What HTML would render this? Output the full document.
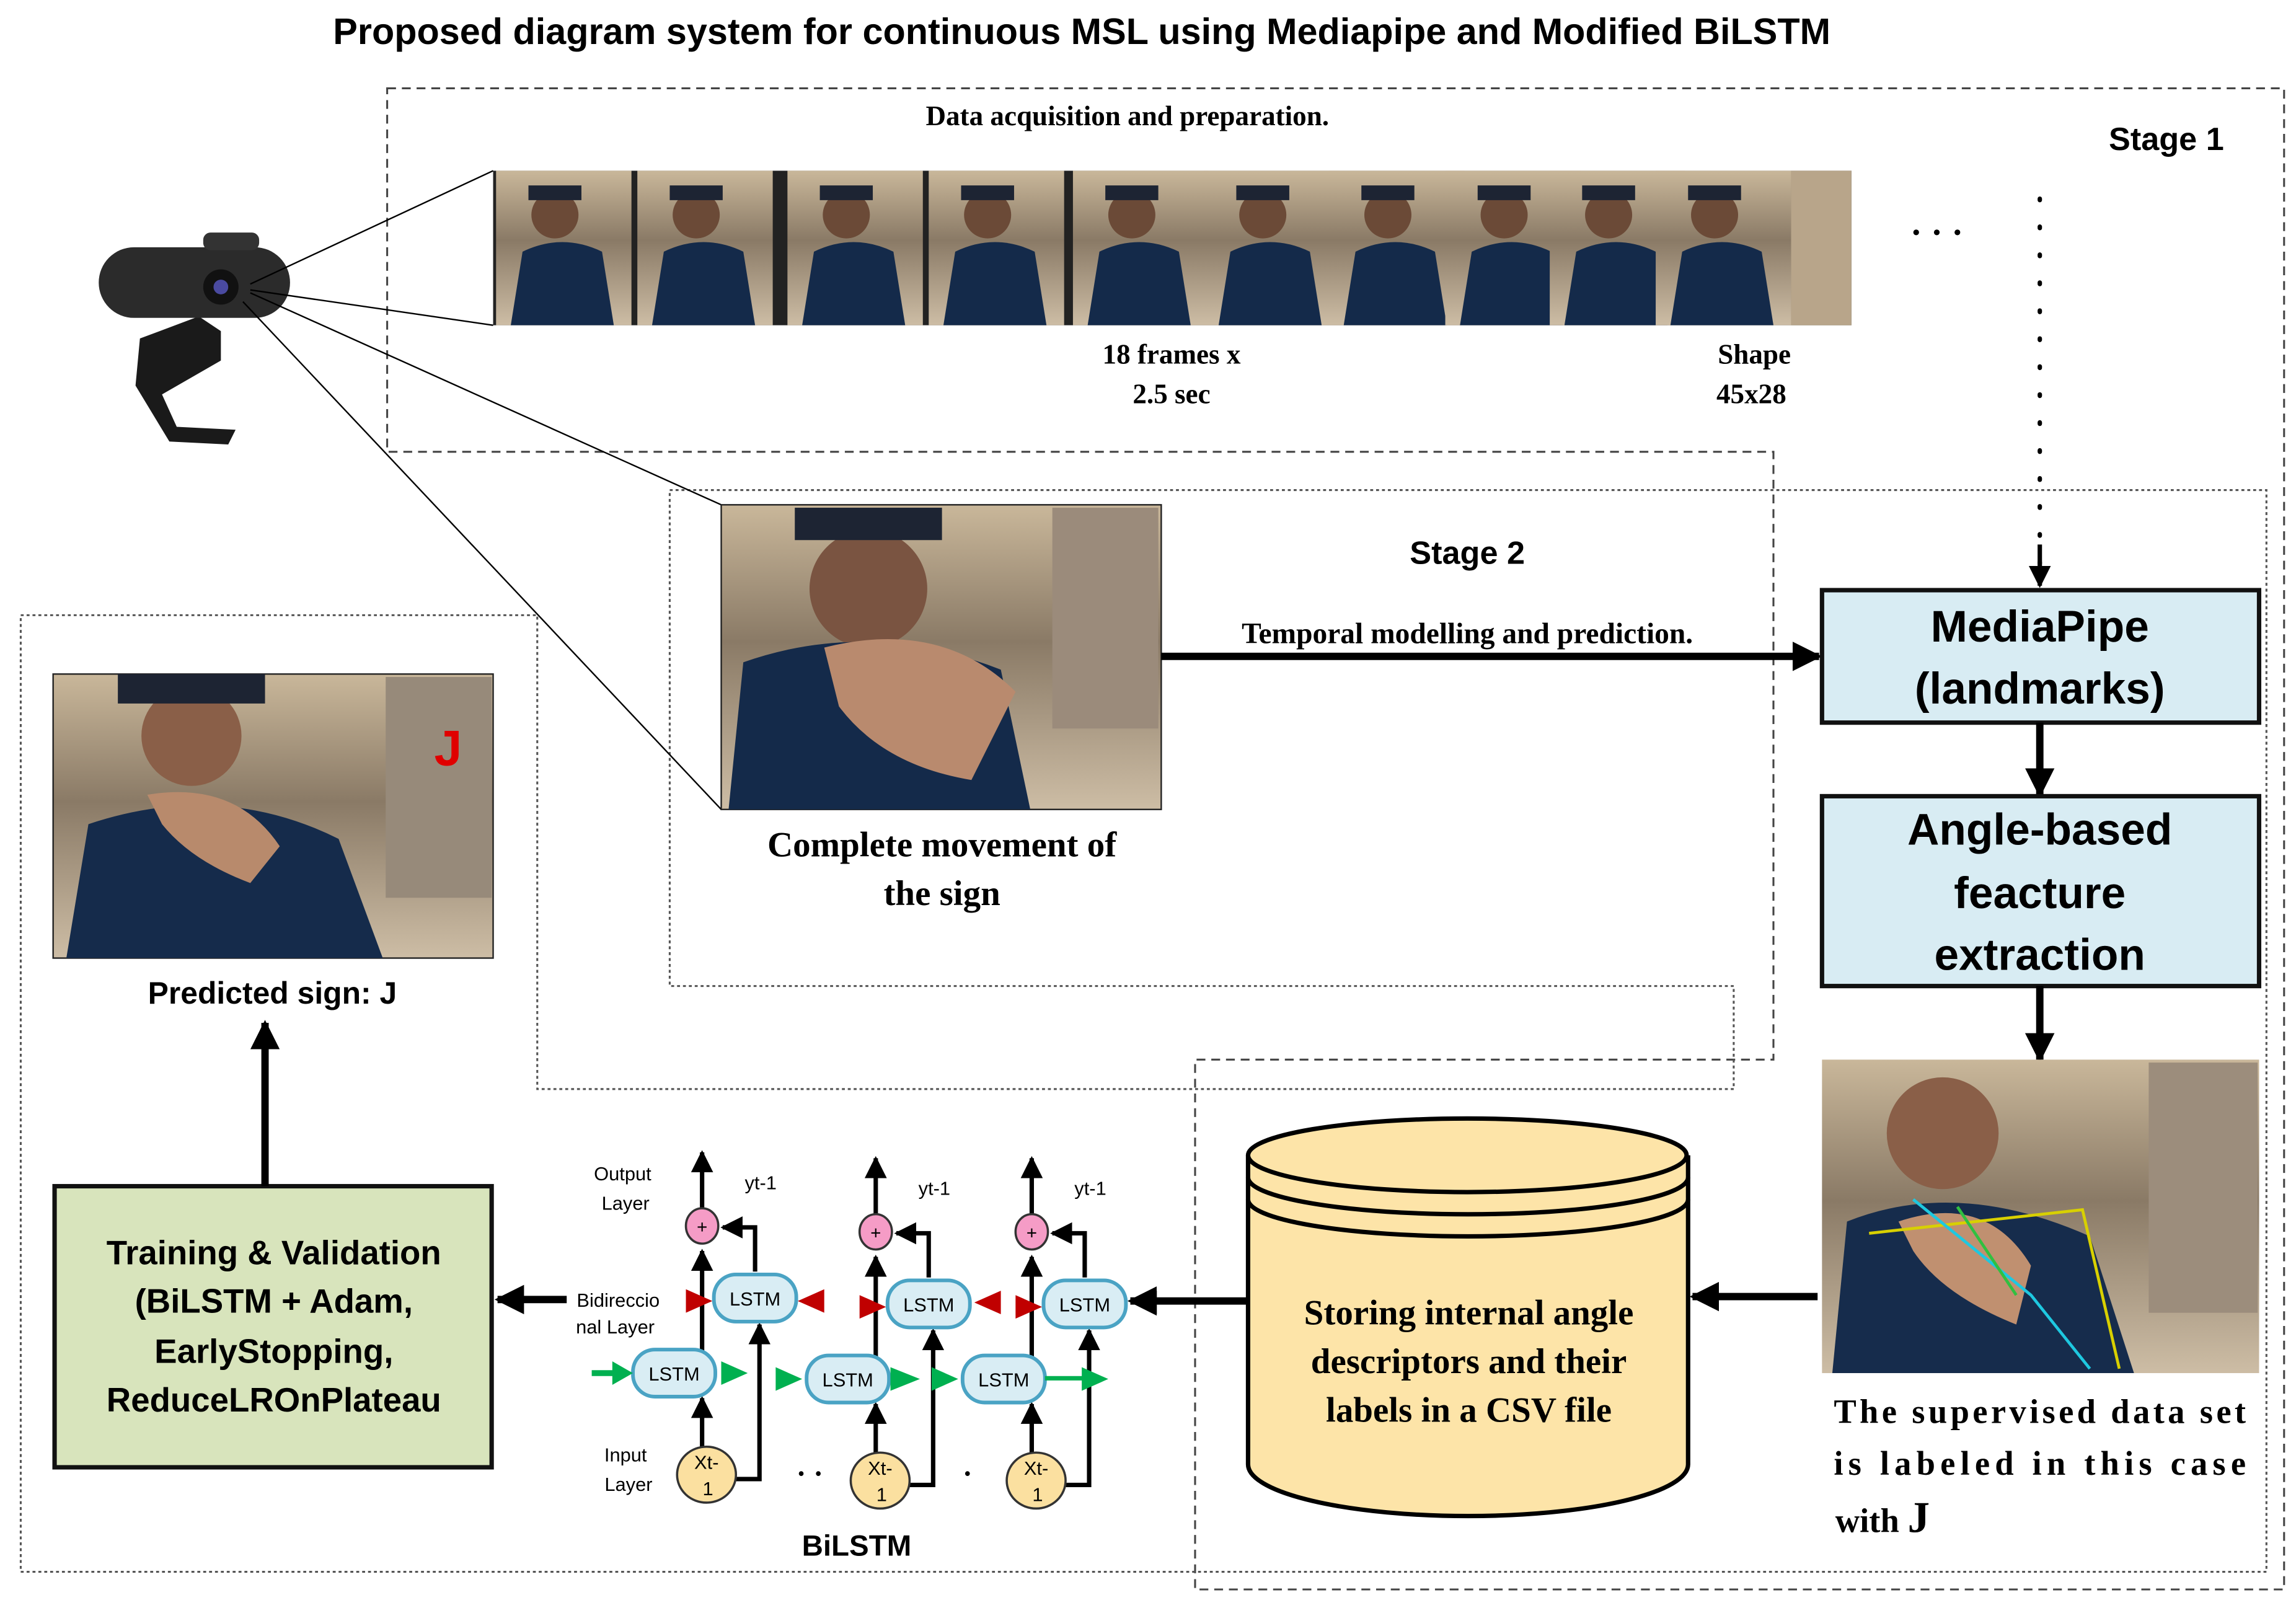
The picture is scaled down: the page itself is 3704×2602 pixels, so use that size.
<!DOCTYPE html>
<html><head><meta charset="utf-8">
<style>html,body{margin:0;padding:0;background:#fff}svg{display:block}</style>
</head><body>
<svg width="3704" height="2602" viewBox="0 0 1560 1096" xmlns="http://www.w3.org/2000/svg">
<defs>
<marker id="ah" viewBox="0 0 10 10" refX="9" refY="5" markerWidth="4" markerHeight="4" orient="auto"><path d="M0,0L10,5L0,10z" fill="#000"/></marker>
<marker id="as" viewBox="0 0 10 10" refX="9" refY="5" markerWidth="5" markerHeight="5" orient="auto"><path d="M0,0L10,5L0,10z" fill="#000"/></marker>
<linearGradient id="ph" x1="0" y1="0" x2="0" y2="1"><stop offset="0" stop-color="#c9b79a"/><stop offset="0.45" stop-color="#8a7a66"/><stop offset="1" stop-color="#cdbda5"/></linearGradient>
<g id="fr">
<rect width="92" height="105" fill="url(#ph)"/>
<circle cx="40" cy="30" r="16" fill="#6b4a37"/>
<path d="M10,105 L18,55 Q45,42 72,55 L80,105Z" fill="#142a4a"/>
<path d="M22,10 h36 v10 h-36z" fill="#1d2433"/>
</g>
</defs>
<rect width="1560" height="1096" fill="#fff"/>
<text x="735" y="30" text-anchor="middle" font-family="Liberation Sans, sans-serif" font-weight="bold" font-size="25">Proposed diagram system for continuous MSL using Mediapipe and Modified BiLSTM</text>

<!-- Stage 1 dashed -->
<path d="M263,60 H1552 V1080 H812 V720 H1205 V307 H263 Z" fill="none" stroke="#444" stroke-width="1.3" stroke-dasharray="6,4"/>
<!-- Stage 2 dotted -->
<path d="M455,333 H1540 V1068 H14 V418 H365 V740 H1178 V670 H455 Z" fill="none" stroke="#555" stroke-width="1.3" stroke-dasharray="2,2"/>

<text x="766" y="85" text-anchor="middle" font-family="Liberation Serif, serif" font-weight="bold" font-size="19">Data acquisition and preparation.</text>
<text x="1472" y="102" text-anchor="middle" font-family="Liberation Sans, sans-serif" font-weight="bold" font-size="22">Stage 1</text>

<!-- frames -->
<rect x="335" y="116" width="923" height="105" fill="#222"/>
<use href="#fr" x="337" y="116"/><use href="#fr" x="433" y="116"/><use href="#fr" x="535" y="116"/><use href="#fr" x="631" y="116"/><use href="#fr" x="729" y="116"/><use href="#fr" x="818" y="116"/><use href="#fr" x="903" y="116"/><use href="#fr" x="982" y="116"/><use href="#fr" x="1053" y="116"/><use href="#fr" x="1125" y="116"/>
<rect x="1217" y="116" width="41" height="105" fill="#b8a58a"/>
<text x="1316" y="166" text-anchor="middle" font-size="24" font-weight="bold">·  ·  ·</text>
<line x1="1386" y1="135" x2="1386" y2="395" stroke="#000" stroke-width="3" stroke-dasharray="1,18" stroke-linecap="round"/>
<line x1="1386" y1="370" x2="1386" y2="398" stroke="#000" stroke-width="3" marker-end="url(#as)"/>

<text x="796" y="247" text-anchor="middle" font-family="Liberation Serif, serif" font-weight="bold" font-size="19">18 frames x</text>
<text x="796" y="274" text-anchor="middle" font-family="Liberation Serif, serif" font-weight="bold" font-size="19">2.5 sec</text>
<text x="1192" y="247" text-anchor="middle" font-family="Liberation Serif, serif" font-weight="bold" font-size="19">Shape</text>
<text x="1190" y="274" text-anchor="middle" font-family="Liberation Serif, serif" font-weight="bold" font-size="19">45x28</text>

<!-- camera -->
<g>
<path d="M95,230 L135,215 L150,225 L150,245 L110,268 L120,290 L160,292 L155,302 L115,300 L92,262Z" fill="#1a1a1a"/>
<rect x="67" y="168" width="130" height="48" rx="24" fill="#2b2b2b"/>
<rect x="138" y="158" width="38" height="12" rx="5" fill="#333"/>
<circle cx="150" cy="195" r="12" fill="#111"/><circle cx="150" cy="195" r="5" fill="#4a4aa0"/>
</g>
<g stroke="#000" stroke-width="1">
<line x1="170" y1="193" x2="335" y2="116"/><line x1="170" y1="197" x2="335" y2="221"/>
<line x1="170" y1="199" x2="490" y2="343"/><line x1="165" y1="205" x2="490" y2="550"/>
</g>

<!-- big photo -->
<rect x="490" y="343" width="299" height="207" fill="url(#ph)" stroke="#222"/>
<circle cx="590" cy="400" r="40" fill="#7a5441"/>
<path d="M540,345 h100 v22 h-100z" fill="#1d2433"/>
<path d="M495,550 L505,450 Q590,420 680,455 L700,550Z" fill="#142a4a"/>
<path d="M560,440 Q640,420 690,470 L660,530 Q600,520 570,480Z" fill="#b98a6e"/>
<rect x="715" y="345" width="72" height="150" fill="#9b8b7b"/>
<text x="640" y="582" text-anchor="middle" font-family="Liberation Serif, serif" font-weight="bold" font-size="24">Complete movement of</text>
<text x="640" y="615" text-anchor="middle" font-family="Liberation Serif, serif" font-weight="bold" font-size="24">the sign</text>

<text x="997" y="383" text-anchor="middle" font-family="Liberation Sans, sans-serif" font-weight="bold" font-size="22">Stage 2</text>
<text x="997" y="437" text-anchor="middle" font-family="Liberation Serif, serif" font-weight="bold" font-size="20">Temporal modelling and prediction.</text>
<line x1="789" y1="446" x2="1236" y2="446" stroke="#000" stroke-width="5" marker-end="url(#ah)"/>

<!-- MediaPipe -->
<rect x="1238" y="401" width="297" height="90" fill="#d8ecf3" stroke="#111" stroke-width="3"/>
<text x="1386" y="436" text-anchor="middle" font-family="Liberation Sans, sans-serif" font-weight="bold" font-size="30">MediaPipe</text>
<text x="1386" y="478" text-anchor="middle" font-family="Liberation Sans, sans-serif" font-weight="bold" font-size="30">(landmarks)</text>
<line x1="1386" y1="491" x2="1386" y2="540" stroke="#000" stroke-width="5" marker-end="url(#ah)"/>
<rect x="1238" y="541" width="297" height="129" fill="#d8ecf3" stroke="#111" stroke-width="3"/>
<text x="1386" y="574" text-anchor="middle" font-family="Liberation Sans, sans-serif" font-weight="bold" font-size="30">Angle-based</text>
<text x="1386" y="617" text-anchor="middle" font-family="Liberation Sans, sans-serif" font-weight="bold" font-size="30">feacture</text>
<text x="1386" y="659" text-anchor="middle" font-family="Liberation Sans, sans-serif" font-weight="bold" font-size="30">extraction</text>
<line x1="1386" y1="670" x2="1386" y2="720" stroke="#000" stroke-width="5" marker-end="url(#ah)"/>

<!-- landmark photo -->
<rect x="1238" y="720" width="297" height="213" fill="url(#ph)"/>
<circle cx="1320" cy="770" r="38" fill="#8a5f48"/>
<path d="M1245,933 L1255,830 Q1330,800 1420,840 L1450,933Z" fill="#162c4c"/>
<path d="M1290,830 Q1350,810 1380,860 L1370,900 Q1320,880 1300,850Z" fill="#c09070"/>
<rect x="1460" y="722" width="74" height="170" fill="#9c8d7c"/>
<g stroke-width="2" fill="none"><path d="M1270,838 L1415,822 L1440,930" stroke="#d8d000"/><path d="M1300,815 L1380,880 L1420,930" stroke="#1ec8e0"/><path d="M1330,820 L1370,880" stroke="#30c040"/></g>
<text x="1386" y="967" text-anchor="middle" font-family="Liberation Serif, serif" font-weight="bold" font-size="23" textLength="280">The supervised data set</text>
<text x="1386" y="1002" text-anchor="middle" font-family="Liberation Serif, serif" font-weight="bold" font-size="23" textLength="280">is labeled in this case</text>
<text x="1247" y="1041" font-family="Liberation Serif, serif" font-weight="bold" font-size="23">with <tspan font-size="30">J</tspan></text>

<!-- cylinder -->
<path d="M848,785 V995 A149,35 0 0 0 1147,995 V785" fill="#fde4a8" stroke="#000" stroke-width="3"/>
<ellipse cx="997" cy="785" rx="149" ry="25" fill="#fde4a8" stroke="#000" stroke-width="3"/>
<path d="M848,800 A149,25 0 0 0 1147,800 M848,815 A149,25 0 0 0 1147,815" fill="none" stroke="#000" stroke-width="3"/>
<text x="998" y="900" text-anchor="middle" font-family="Liberation Serif, serif" font-weight="bold" font-size="24">Storing internal angle</text>
<text x="998" y="933" text-anchor="middle" font-family="Liberation Serif, serif" font-weight="bold" font-size="24">descriptors and their</text>
<text x="998" y="966" text-anchor="middle" font-family="Liberation Serif, serif" font-weight="bold" font-size="24">labels in a CSV file</text>
<line x1="1235" y1="881" x2="1150" y2="881" stroke="#000" stroke-width="5" marker-end="url(#ah)"/>
<line x1="848" y1="884" x2="768" y2="884" stroke="#000" stroke-width="5" marker-end="url(#ah)"/>

<!-- BiLSTM -->
<g font-family="Liberation Sans, sans-serif" font-size="13" text-anchor="middle">
<text x="423" y="802">Output</text><text x="425" y="822">Layer</text>
<text x="420" y="888">Bidireccio</text><text x="418" y="906">nal Layer</text>
<text x="425" y="993">Input</text><text x="427" y="1013">Layer</text>
</g>
<g id="cell">
<line x1="477" y1="985" x2="477" y2="950" stroke="#000" stroke-width="3" marker-end="url(#as)"/>
<line x1="477" y1="918" x2="477" y2="850" stroke="#000" stroke-width="3" marker-end="url(#as)"/>
<line x1="477" y1="822" x2="477" y2="783" stroke="#000" stroke-width="3" marker-end="url(#as)"/>
<path d="M496,1005 H516 V900" fill="none" stroke="#000" stroke-width="3" marker-end="url(#as)"/>
<path d="M513,864 V834 H491" fill="none" stroke="#000" stroke-width="3" marker-end="url(#as)"/>
<path d="M484,884 l-18,-8 v16z" fill="#c00000"/>
<ellipse cx="480" cy="1002" rx="20" ry="19" fill="#fbe0a0" stroke="#333" stroke-width="1.5"/>
<text x="480" y="998" text-anchor="middle" font-family="Liberation Sans, sans-serif" font-size="13">Xt-</text>
<text x="481" y="1016" text-anchor="middle" font-family="Liberation Sans, sans-serif" font-size="13">1</text>
<ellipse cx="477" cy="833" rx="11" ry="12" fill="#f59cc6" stroke="#333" stroke-width="1.5"/>
<text x="477" y="838" text-anchor="middle" font-size="13" font-weight="bold">+</text>
<text x="506" y="808" font-family="Liberation Sans, sans-serif" font-size="13">yt-1</text>
<rect x="485" y="866" width="56" height="32" rx="15" fill="#d9edf4" stroke="#4aa3c4" stroke-width="2.5"/>
<text x="513" y="887" text-anchor="middle" font-family="Liberation Sans, sans-serif" font-size="13">LSTM</text>
<rect x="430" y="917" width="56" height="32" rx="15" fill="#d9edf4" stroke="#4aa3c4" stroke-width="2.5"/>
<text x="458" y="938" text-anchor="middle" font-family="Liberation Sans, sans-serif" font-size="13">LSTM</text>
</g>
<use href="#cell" x="118" y="4"/>
<use href="#cell" x="224" y="4"/>
<g fill="#00b050">
<path d="M402,933 h14 M416,925 l14,8 -14,8z"/><rect x="402" y="931" width="16" height="4"/>
<path d="M490,925 l18,8 -18,8z"/>
<path d="M527,929 l18,8 -18,8z"/>
<path d="M605,929 l20,8 -20,8z"/>
<path d="M633,929 l18,8 -18,8z"/>
<rect x="710" y="935" width="30" height="3"/><path d="M735,929 l18,8 -18,8z"/>
</g>
<g fill="#c00000"><path d="M542,884 l18,-8 v16z"/><path d="M662,885 l18,-8 v16z"/></g>
<path d="M768,885 l18,-8 v16z" fill="#000"/>
<text x="541" y="1008" font-size="20" font-weight="bold">·  ·</text>
<text x="654" y="1008" font-size="20" font-weight="bold">·</text>
<text x="582" y="1057" text-anchor="middle" font-family="Liberation Sans, sans-serif" font-weight="bold" font-size="20">BiLSTM</text>

<!-- Training -->
<line x1="385" y1="883" x2="338" y2="883" stroke="#000" stroke-width="5" marker-end="url(#ah)"/>
<rect x="37" y="806" width="297" height="191" fill="#d8e4bc" stroke="#111" stroke-width="3"/>
<g font-family="Liberation Sans, sans-serif" font-weight="bold" font-size="23" text-anchor="middle">
<text x="186" y="859">Training &amp; Validation</text>
<text x="186" y="892">(BiLSTM + Adam,</text>
<text x="186" y="926">EarlyStopping,</text>
<text x="186" y="959">ReduceLROnPlateau</text>
</g>
<line x1="180" y1="806" x2="180" y2="695" stroke="#000" stroke-width="5" marker-end="url(#ah)"/>
<text x="185" y="682" text-anchor="middle" font-family="Liberation Sans, sans-serif" font-weight="bold" font-size="21">Predicted sign: J</text>

<!-- predicted photo -->
<rect x="36" y="458" width="299" height="193" fill="url(#ph)" stroke="#222"/>
<circle cx="130" cy="500" r="34" fill="#8a5f48"/>
<path d="M80,458 h100 v20 h-100z" fill="#1d2433"/>
<path d="M45,651 L60,560 Q150,530 230,570 L260,651Z" fill="#152b4b"/>
<path d="M100,540 Q160,530 190,575 L170,600 Q130,585 110,560Z" fill="#b88a6c"/>
<rect x="262" y="460" width="72" height="150" fill="#978a7a"/>
<text x="295" y="520" font-family="Liberation Sans, sans-serif" font-weight="bold" font-size="34" fill="#e00000">J</text>
</svg>
</body></html>
